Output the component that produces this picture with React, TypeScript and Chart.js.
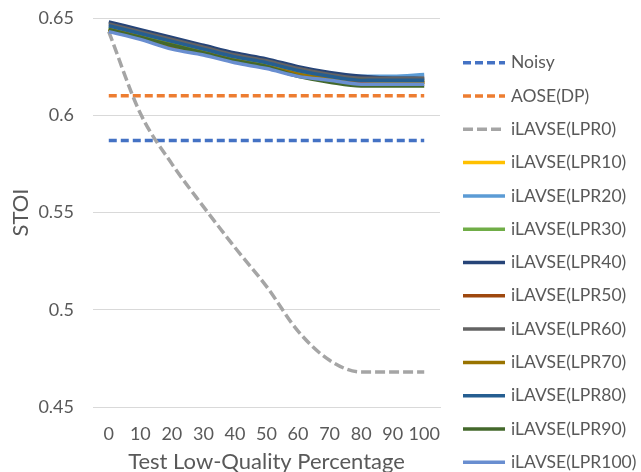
import React, { useEffect, useRef } from "react";
import { Chart, registerables } from "chart.js";

Chart.register(...registerables);

const categories = ["0", "10", "20", "30", "40", "50", "60", "70", "80", "90", "100"];

const noisy = [0.587, 0.587, 0.587, 0.587, 0.587, 0.587, 0.587, 0.587, 0.587, 0.587, 0.587];
const aoseDP = [0.61, 0.61, 0.61, 0.61, 0.61, 0.61, 0.61, 0.61, 0.61, 0.61, 0.61];
const lpr0 = [0.643, 0.601, 0.575, 0.553, 0.532, 0.512, 0.489, 0.474, 0.468, 0.468, 0.468];
const lpr10 = [0.644, 0.64, 0.636, 0.633, 0.629, 0.626, 0.622, 0.619, 0.617, 0.617, 0.617];
const lpr20 = [0.645, 0.641, 0.637, 0.634, 0.63, 0.627, 0.623, 0.621, 0.62, 0.62, 0.621];
const lpr30 = [0.645, 0.641, 0.637, 0.633, 0.629, 0.626, 0.622, 0.619, 0.617, 0.617, 0.617];
const lpr40 = [0.648, 0.644, 0.64, 0.636, 0.632, 0.629, 0.625, 0.622, 0.62, 0.619, 0.619];
const lpr50 = [0.644, 0.64, 0.635, 0.632, 0.628, 0.625, 0.621, 0.618, 0.617, 0.617, 0.617];
const lpr60 = [0.647, 0.643, 0.639, 0.635, 0.631, 0.628, 0.624, 0.621, 0.619, 0.619, 0.619];
const lpr70 = [0.644, 0.64, 0.636, 0.632, 0.628, 0.625, 0.621, 0.619, 0.618, 0.617, 0.617];
const lpr80 = [0.646, 0.642, 0.638, 0.634, 0.63, 0.627, 0.623, 0.62, 0.618, 0.618, 0.618];
const lpr90 = [0.644, 0.64, 0.636, 0.632, 0.628, 0.625, 0.62, 0.617, 0.615, 0.615, 0.615];
const lpr100 = [0.643, 0.639, 0.634, 0.631, 0.627, 0.624, 0.62, 0.618, 0.616, 0.616, 0.616];

const seriesLabels = [
  "Noisy", "AOSE(DP)", "iLAVSE(LPR0)", "iLAVSE(LPR10)", "iLAVSE(LPR20)", "iLAVSE(LPR30)",
  "iLAVSE(LPR40)", "iLAVSE(LPR50)", "iLAVSE(LPR60)", "iLAVSE(LPR70)", "iLAVSE(LPR80)",
  "iLAVSE(LPR90)", "iLAVSE(LPR100)",
];
const seriesValues = [noisy, aoseDP, lpr0, lpr10, lpr20, lpr30, lpr40, lpr50, lpr60, lpr70, lpr80, lpr90, lpr100];
const seriesColors = [
  "#4472C4", "#ED7D31", "#A5A5A5", "#FFC000", "#5B9BD5", "#70AD47",
  "#264478", "#9E480E", "#636363", "#997300", "#255E91", "#43682B", "#698ED0",
];
const seriesDashes = [[8, 4], [8, 4], [10, 4], [], [], [], [], [], [], [], [], [], []];

const yTicks = [0.45, 0.5, 0.55, 0.6, 0.65];

const FONT = "Lato, 'Open Sans', sans-serif";
const TEXT = "#595959";

const legendPlugin = {
  id: "sideLegend",
  afterDraw(chart: any) {
    const ctx = chart.ctx;
    const x0 = 463;
    const len = 42;
    const top = 62.7;
    const step = 33.3;
    ctx.save();
    chart.data.datasets.forEach((ds: any, i: number) => {
      const y = top + i * step;
      ctx.beginPath();
      ctx.setLineDash(ds.borderDash || []);
      ctx.lineCap = "butt";
      ctx.strokeStyle = ds.borderColor;
      ctx.lineWidth = ds.borderWidth;
      ctx.moveTo(x0, y);
      ctx.lineTo(x0 + len, y);
      ctx.stroke();
      ctx.setLineDash([]);
      ctx.fillStyle = TEXT;
      ctx.font = `17.5px ${FONT}`;
      ctx.textBaseline = "middle";
      ctx.textAlign = "left";
      ctx.fillText(ds.label, x0 + len + 6, y);
    });
    ctx.restore();
  },
};

export default function App() {
  const ref = useRef<HTMLCanvasElement>(null);
  useEffect(() => {
    if (!ref.current) return;
    const n = seriesLabels.length;
    const chart = new Chart(ref.current, {
      type: "line",
      data: {
        labels: categories,
        datasets: seriesLabels.map((label, i) => ({
          label,
          data: seriesValues[i],
          borderColor: seriesColors[i],
          backgroundColor: seriesColors[i],
          borderWidth: 3.5,
          borderDash: seriesDashes[i],
          pointRadius: 0,
          pointHoverRadius: 0,
          cubicInterpolationMode: "monotone",
          fill: false,
          order: n - 1 - i,
        })),
      },
      options: {
        responsive: false,
        animation: false,
        events: [],
        layout: { padding: { left: 3, right: 201, top: 18, bottom: 3 } },
        plugins: {
          legend: { display: false },
          tooltip: { enabled: false },
        },
        scales: {
          x: {
            type: "category",
            offset: true,
            grid: { display: false, drawTicks: false },
            border: { display: true, color: "#D9D9D9", width: 1 },
            ticks: { font: { family: FONT, size: 18 }, color: TEXT, padding: 16.5, maxRotation: 0, autoSkip: false },
            title: {
              display: true,
              text: "Test Low-Quality Percentage",
              font: { family: FONT, size: 22 },
              color: TEXT,
              padding: { top: 6, bottom: 2 },
            },
            afterFit: (scale: any) => {
              scale.height = 70;
              scale.paddingLeft = 0;
              scale.paddingRight = 0;
            },
          },
          y: {
            min: 0.45,
            max: 0.65,
            afterBuildTicks: (scale: any) => {
              scale.ticks = yTicks.map((v) => ({ value: v }));
            },
            grid: { color: "#D9D9D9", lineWidth: 1, drawTicks: false },
            border: { display: false },
            ticks: {
              font: { family: FONT, size: 18 },
              color: TEXT,
              padding: 19,
              callback: (v: any) => String(Number(Number(v).toFixed(2))),
            },
            title: {
              display: true,
              text: "STOI",
              font: { family: FONT, size: 22 },
              color: TEXT,
              padding: { top: 5, bottom: 4 },
            },
            afterFit: (scale: any) => {
              scale.width = 90;
              scale.paddingTop = 0;
              scale.paddingBottom = 0;
            },
          },
        },
      },
      plugins: [legendPlugin],
    });
    return () => chart.destroy();
  }, []);
  return (
    <div style={{ position: "absolute", left: 0, top: 0, width: 641, height: 472, overflow: "hidden", background: "#fff" }}>
      <canvas ref={ref} width={641} height={480} style={{ display: "block", width: 641, height: 480 }} />
    </div>
  );
}
